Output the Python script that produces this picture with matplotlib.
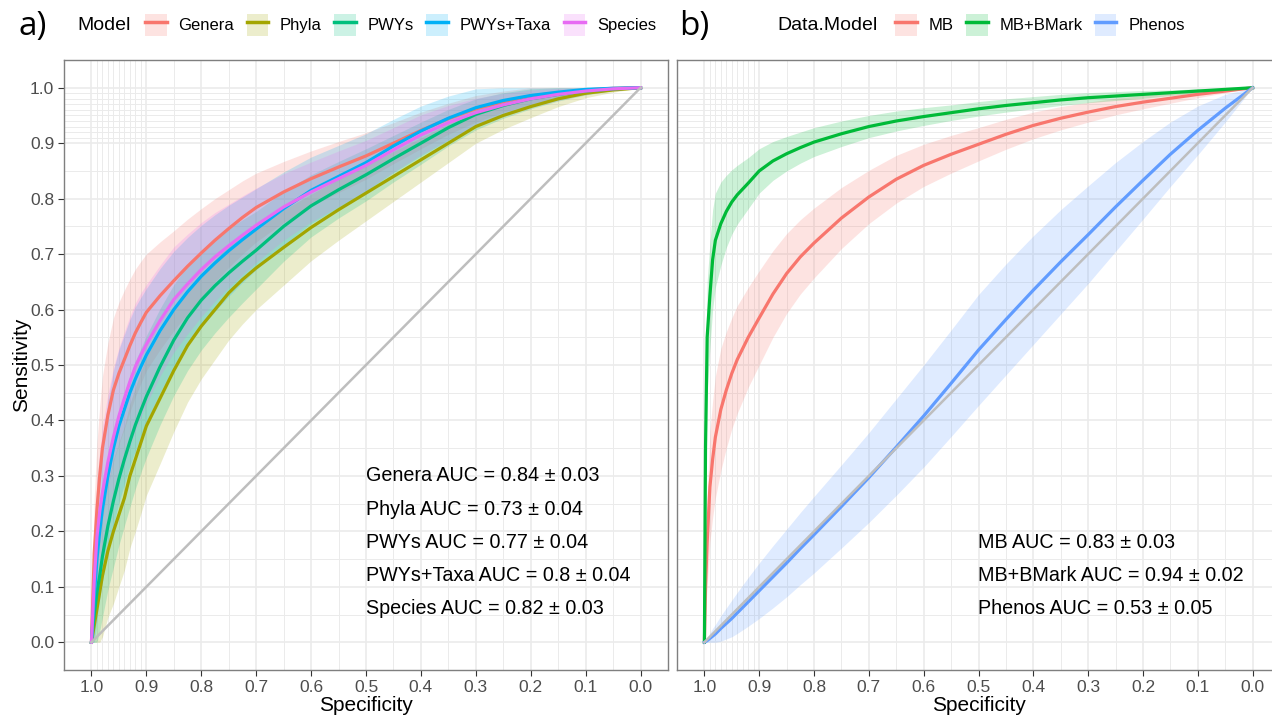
import numpy as np
import matplotlib
matplotlib.use("Agg")
import matplotlib.pyplot as plt
from matplotlib.patches import Patch
from matplotlib.lines import Line2D

plt.rcParams['font.family'] = ['Liberation Sans', 'DejaVu Sans']

# --- panel a data: mean ROC curves with sd ribbons ---
spec_a = [1.0, 0.995, 0.99, 0.985, 0.98, 0.97, 0.96, 0.95, 0.94, 0.93, 0.92, 0.91,
          0.90, 0.875, 0.85, 0.825, 0.80, 0.775, 0.75, 0.725, 0.70, 0.65, 0.60,
          0.55, 0.50, 0.45, 0.40, 0.35, 0.30, 0.25, 0.20, 0.15, 0.10, 0.05, 0.0]

genera = [0, 0.16, 0.24, 0.30, 0.35, 0.41, 0.455, 0.485, 0.51, 0.535, 0.558, 0.577,
          0.595, 0.625, 0.652, 0.678, 0.702, 0.725, 0.746, 0.766, 0.784, 0.812, 0.836,
          0.857, 0.877, 0.90, 0.923, 0.944, 0.962, 0.975, 0.985, 0.991, 0.996, 0.999, 1.0]
phyla = [0, 0.03, 0.06, 0.09, 0.12, 0.165, 0.20, 0.23, 0.26, 0.30, 0.33, 0.36,
         0.39, 0.44, 0.49, 0.535, 0.57, 0.60, 0.63, 0.654, 0.675, 0.712, 0.748,
         0.78, 0.81, 0.84, 0.87, 0.90, 0.93, 0.95, 0.966, 0.98, 0.99, 0.996, 1.0]
pwys = [0, 0.05, 0.09, 0.12, 0.155, 0.21, 0.255, 0.295, 0.33, 0.362, 0.392, 0.418,
        0.443, 0.497, 0.545, 0.585, 0.617, 0.643, 0.666, 0.687, 0.707, 0.75, 0.787,
        0.816, 0.843, 0.872, 0.90, 0.928, 0.952, 0.968, 0.98, 0.988, 0.994, 0.998, 1.0]
pwys_taxa = [0, 0.08, 0.15, 0.20, 0.24, 0.30, 0.35, 0.39, 0.42, 0.45, 0.475, 0.497,
             0.518, 0.562, 0.60, 0.632, 0.66, 0.684, 0.706, 0.726, 0.745, 0.782, 0.815,
             0.84, 0.865, 0.895, 0.922, 0.945, 0.964, 0.977, 0.986, 0.992, 0.997, 0.999, 1.0]
species = [0, 0.11, 0.19, 0.235, 0.27, 0.325, 0.37, 0.408, 0.44, 0.47, 0.497, 0.518,
           0.537, 0.58, 0.618, 0.646, 0.672, 0.695, 0.715, 0.734, 0.752, 0.785, 0.812,
           0.836, 0.86, 0.888, 0.915, 0.937, 0.955, 0.969, 0.98, 0.988, 0.994, 0.998, 1.0]

sd_genera = [0, 0.1, 0.12, 0.125, 0.13, 0.13, 0.13, 0.128, 0.125, 0.12, 0.115, 0.11,
             0.105, 0.097, 0.09, 0.085, 0.08, 0.075, 0.07, 0.066, 0.062, 0.055, 0.05,
             0.046, 0.042, 0.037, 0.033, 0.028, 0.024, 0.019, 0.015, 0.01, 0.006, 0.003, 0]
sd_phyla = [0, 0.05, 0.08, 0.095, 0.11, 0.12, 0.13, 0.13, 0.13, 0.13, 0.13, 0.128,
            0.125, 0.118, 0.11, 0.102, 0.095, 0.09, 0.085, 0.08, 0.075, 0.068, 0.06,
            0.055, 0.05, 0.045, 0.04, 0.035, 0.03, 0.025, 0.02, 0.014, 0.008, 0.004, 0]
sd_pwys = [0, 0.06, 0.09, 0.1, 0.11, 0.115, 0.12, 0.12, 0.12, 0.118, 0.115, 0.112,
           0.11, 0.105, 0.1, 0.095, 0.09, 0.085, 0.08, 0.075, 0.07, 0.063, 0.056,
           0.051, 0.047, 0.042, 0.038, 0.033, 0.028, 0.023, 0.018, 0.012, 0.007, 0.003, 0]
sd_pwys_taxa = [0, 0.08, 0.11, 0.12, 0.13, 0.135, 0.14, 0.138, 0.135, 0.132, 0.13, 0.125,
                0.12, 0.112, 0.105, 0.098, 0.092, 0.087, 0.082, 0.077, 0.073, 0.066, 0.06,
                0.056, 0.052, 0.048, 0.045, 0.04, 0.034, 0.027, 0.02, 0.014, 0.008, 0.004, 0]
sd_species = [0, 0.08, 0.1, 0.11, 0.12, 0.123, 0.125, 0.123, 0.12, 0.118, 0.115, 0.112,
              0.108, 0.1, 0.095, 0.09, 0.085, 0.08, 0.075, 0.071, 0.067, 0.06, 0.054,
              0.05, 0.045, 0.04, 0.036, 0.031, 0.026, 0.021, 0.016, 0.011, 0.006, 0.003, 0]

models_a = ["Genera", "Phyla", "PWYs", "PWYs+Taxa", "Species"]
auc_a = ["Genera AUC = 0.84 \u00b1 0.03", "Phyla AUC = 0.73 \u00b1 0.04",
         "PWYs AUC = 0.77 \u00b1 0.04", "PWYs+Taxa AUC = 0.8 \u00b1 0.04",
         "Species AUC = 0.82 \u00b1 0.03"]

# --- panel b data ---
spec_b = [1.0, 0.998, 0.995, 0.99, 0.985, 0.98, 0.97, 0.96, 0.95, 0.94, 0.92, 0.90,
          0.875, 0.85, 0.825, 0.80, 0.75, 0.70, 0.65, 0.60, 0.55, 0.50, 0.45, 0.40,
          0.35, 0.30, 0.25, 0.20, 0.15, 0.10, 0.05, 0.0]

mb = [0, 0.1, 0.18, 0.28, 0.33, 0.37, 0.42, 0.455, 0.485, 0.51, 0.55, 0.585,
      0.628, 0.665, 0.695, 0.72, 0.765, 0.803, 0.835, 0.86, 0.88, 0.898, 0.916, 0.932,
      0.945, 0.956, 0.966, 0.974, 0.981, 0.988, 0.994, 1.0]
mb_bmark = [0, 0.35, 0.55, 0.625, 0.69, 0.725, 0.755, 0.777, 0.794, 0.807, 0.828, 0.85,
            0.868, 0.881, 0.892, 0.902, 0.917, 0.93, 0.94, 0.948, 0.955, 0.962, 0.968, 0.973,
            0.978, 0.982, 0.985, 0.988, 0.991, 0.994, 0.997, 1.0]
phenos = [0, 0.001, 0.003, 0.007, 0.011, 0.015, 0.025, 0.034, 0.043, 0.053, 0.073, 0.093,
          0.118, 0.143, 0.169, 0.194, 0.245, 0.297, 0.352, 0.408, 0.467, 0.527, 0.582, 0.635,
          0.686, 0.735, 0.785, 0.833, 0.88, 0.923, 0.963, 1.0]

sd_mb = [0, 0.05, 0.08, 0.1, 0.105, 0.11, 0.11, 0.105, 0.1, 0.097, 0.09, 0.085,
         0.078, 0.072, 0.067, 0.063, 0.055, 0.048, 0.043, 0.038, 0.034, 0.03, 0.027, 0.024,
         0.021, 0.018, 0.015, 0.012, 0.009, 0.006, 0.003, 0]
sd_mb_bmark = [0, 0.08, 0.1, 0.095, 0.09, 0.085, 0.075, 0.065, 0.058, 0.053, 0.046, 0.04,
               0.035, 0.031, 0.028, 0.026, 0.023, 0.02, 0.018, 0.016, 0.014, 0.013, 0.012, 0.011,
               0.01, 0.009, 0.008, 0.007, 0.005, 0.004, 0.002, 0]
sd_phenos = [0, 0.003, 0.006, 0.01, 0.014, 0.017, 0.023, 0.028, 0.033, 0.037, 0.044, 0.05,
             0.056, 0.061, 0.065, 0.069, 0.075, 0.081, 0.087, 0.092, 0.096, 0.1, 0.1, 0.098,
             0.094, 0.088, 0.08, 0.07, 0.058, 0.044, 0.025, 0]

models_b = ["MB", "MB+BMark", "Phenos"]
auc_b = ["MB AUC = 0.83 \u00b1 0.03", "MB+BMark AUC = 0.94 \u00b1 0.02",
         "Phenos AUC = 0.53 \u00b1 0.05"]

colors_a = ["#F8766D", "#A3A500", "#00BF7D", "#00B0F6", "#E76BF3"]
colors_b = ["#F8766D", "#00BA38", "#619CFF"]

W, H = 1272, 717
fig = plt.figure(figsize=(W / 100, H / 100), dpi=100)
ax_a = fig.add_axes([64 / W, 1 - 670 / H, 604 / W, 610 / H])
ax_b = fig.add_axes([677 / W, 1 - 670 / H, 603 / W, 610 / H])


def style_axis(ax, show_y):
    ax.set_xlim(1.05, -0.05)
    ax.set_ylim(-0.05, 1.05)
    ticks = np.round(np.arange(0, 1.01, 0.1), 1)
    ax.set_xticks(ticks)
    ax.set_yticks(ticks)
    ax.set_xticklabels([f"{t:.1f}" for t in ticks])
    ax.set_yticklabels([f"{t:.1f}" for t in ticks])
    minor = list(np.round(np.arange(0.05, 1.0, 0.1), 2)) + list(np.round(np.arange(0.91, 1.0, 0.01), 2))
    ax.set_xticks(minor, minor=True)
    ax.set_yticks(minor, minor=True)
    ax.grid(True, which='major', color='#EBEBEB', lw=1.2, zorder=0)
    ax.grid(True, which='minor', color='#EBEBEB', lw=0.7, zorder=0)
    ax.set_axisbelow(True)
    ax.tick_params(which='minor', length=0)
    ax.tick_params(which='major', length=4, width=0.8, color='#333333',
                   labelsize=12.5, labelcolor='#4D4D4D', pad=3)
    if not show_y:
        ax.tick_params(axis='y', which='both', left=False, labelleft=False)
    for s in ax.spines.values():
        s.set_color('#7F7F7F')
        s.set_linewidth(1.0)
    ax.set_xlabel("Specificity", fontsize=15, labelpad=1)


def draw_curves(ax, spec, series, sds, colors):
    for y, sd, c in zip(series, sds, colors):
        y = np.array(y)
        sd = np.array(sd)
        ax.fill_between(spec, np.clip(y - sd, 0, 1), np.clip(y + sd, 0, 1),
                        color=c, alpha=0.2, lw=0, zorder=2)
    for y, c in zip(series, colors):
        ax.plot(spec, y, color=c, lw=2.3, zorder=3, solid_joinstyle='round')
    ax.plot([1, 0], [0, 1], color='#BEBEBE', lw=1.8, zorder=4)


style_axis(ax_a, True)
style_axis(ax_b, False)
ax_a.set_ylabel("Sensitivity", fontsize=15, labelpad=-1)

draw_curves(ax_a, spec_a, [genera, phyla, pwys, pwys_taxa, species],
            [sd_genera, sd_phyla, sd_pwys, sd_pwys_taxa, sd_species], colors_a)
draw_curves(ax_b, spec_b, [mb, mb_bmark, phenos],
            [sd_mb, sd_mb_bmark, sd_phenos], colors_b)

for i, txt in enumerate(auc_a):
    ax_a.text(0.5, 0.30 - 0.06 * i, txt, fontsize=14.2, ha='left', va='center', zorder=5)
for i, txt in enumerate(auc_b):
    ax_b.text(0.5, 0.18 - 0.06 * i, txt, fontsize=14.2, ha='left', va='center', zorder=5)


def make_legend(models, colors, title, title_x, legend_x):
    handles = [(Patch(facecolor=c, alpha=0.2, lw=0), Line2D([], [], color=c, lw=2.5))
               for c in colors]
    fig.text(title_x / W, 1 - 25 / H, title, fontsize=14, ha='left', va='center')
    leg = fig.legend(handles, models, loc='center left',
                     bbox_to_anchor=(legend_x / W, 1 - 25 / H), ncol=len(models),
                     frameon=False, fontsize=12, handlelength=1.3, handleheight=1.6,
                     handletextpad=0.7, columnspacing=0.75, borderpad=0, borderaxespad=0)
    return leg


make_legend(models_a, colors_a, "Model", 77, 145)
make_legend(models_b, colors_b, "Data.Model", 777, 895)

fig.text(19 / W, 1 - 27 / H, "a)", fontsize=24, family=['Open Sans', 'DejaVu Sans'],
         ha='left', va='center')
fig.text(679 / W, 1 - 27 / H, "b)", fontsize=24, family=['Open Sans', 'DejaVu Sans'],
         ha='left', va='center')

fig.savefig("out.png", dpi=100)
